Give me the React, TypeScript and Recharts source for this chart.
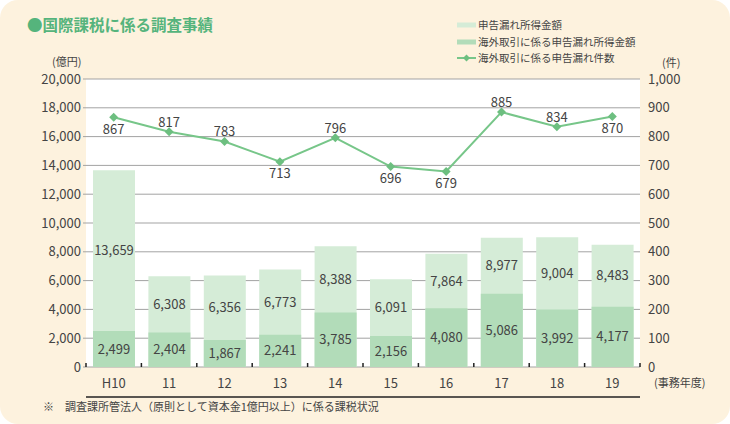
import React from 'react';
import { ComposedChart, Bar, Line, XAxis, YAxis, CartesianGrid, LabelList } from 'recharts';

const categories = ['H10', '11', '12', '13', '14', '15', '16', '17', '18', '19'];
const undeclaredIncome = [13659, 6308, 6356, 6773, 8388, 6091, 7864, 8977, 9004, 8483];
const overseasIncome = [2499, 2404, 1867, 2241, 3785, 2156, 4080, 5086, 3992, 4177];
const overseasCases = [867, 817, 783, 713, 796, 696, 679, 885, 834, 870];
const leftTicks = [0, 2000, 4000, 6000, 8000, 10000, 12000, 14000, 16000, 18000, 20000];
const rightTicks = [0, 100, 200, 300, 400, 500, 600, 700, 800, 900, 1000];

const data = categories.map((name, i) => ({
    name,
    total: undeclaredIncome[i],
    overseas: overseasIncome[i],
    cases: overseasCases[i],
}));

const FONT = '"Noto Sans CJK JP", "Noto Sans", sans-serif';
const LIGHT = '#d5ecd7';
const DARK = '#b2dcb9';
const LINE = '#77c689';
const TEXT = '#444';

const W = 730;
const H = 424;
const M = { top: 79, right: 0, bottom: 27, left: 0 };
const XAXIS_H = 30;
const AXIS_Y = H - M.bottom - XAXIS_H;
const LEFT_W = 86;
const RIGHT_W = 90;
const STEP = (W - LEFT_W - RIGHT_W) / categories.length;

// which line labels sit under the point
const labelBelow = [true, false, false, true, false, true, true, false, false, true];

const fmt = (v: number) => v.toLocaleString('en-US');

const Diamond = (props: any) => {
    const { cx, cy } = props;
    if (cx == null || cy == null) return null;
    const s = 4.5;
    return (
        <polygon
            points={`${cx},${cy - s} ${cx + s},${cy} ${cx},${cy + s} ${cx - s},${cy}`}
            fill="#6dbf80"
        />
    );
};

const LineLabel = (props: any) => {
    const { x, y, value, index } = props;
    const dy = labelBelow[index] ? 16.5 : -5;
    return (
        <text x={x} y={y + dy} textAnchor="middle" fontSize={13} fill={TEXT} fontFamily={FONT}>
            {value}
        </text>
    );
};

const TotalLabel = (props: any) => {
    const { x, y, width, height, value, index } = props;
    const darkTop = y + height * (1 - overseasIncome[index] / value);
    const cy = (y + darkTop) / 2;
    return (
        <text x={x + width / 2} y={cy + 4.5} textAnchor="middle" fontSize={13} fill={TEXT} fontFamily={FONT}>
            {fmt(value)}
        </text>
    );
};

const OverseasLabel = (props: any) => {
    const { x, y, width, height, value } = props;
    return (
        <text x={x + width / 2} y={y + height / 2 + 4.5} textAnchor="middle" fontSize={13} fill={TEXT} fontFamily={FONT}>
            {fmt(value)}
        </text>
    );
};

const XTick = (props: any) => {
    const { x, payload, index } = props;
    const left = x - STEP / 2;
    const right = x + STEP / 2;
    return (
        <g>
            <line x1={left} x2={left} y1={AXIS_Y} y2={AXIS_Y - 4} stroke="#222" strokeWidth={1.5} />
            {index === categories.length - 1 && (
                <line x1={right} x2={right} y1={AXIS_Y} y2={AXIS_Y - 4} stroke="#222" strokeWidth={1.5} />
            )}
            <text x={x} y={AXIS_Y + 21} textAnchor="middle" fontSize={13} fill={TEXT} fontFamily={FONT}>
                {payload.value}
            </text>
        </g>
    );
};

const legendItems = [
    { label: '申告漏れ所得金額', kind: 'light' },
    { label: '海外取引に係る申告漏れ所得金額', kind: 'dark' },
    { label: '海外取引に係る申告漏れ件数', kind: 'line' },
];

const abs = (left: number, top: number, extra: React.CSSProperties = {}): React.CSSProperties => ({
    position: 'absolute',
    left,
    top,
    whiteSpace: 'nowrap',
    fontFamily: FONT,
    color: TEXT,
    ...extra,
});

export default function App() {
    return (
        <div
            style={{
                position: 'absolute',
                left: 0,
                top: 0,
                width: W,
                height: H,
                background: '#fdf2de',
                borderRadius: 18,
                overflow: 'hidden',
            }}
        >
            <div style={abs(27, 13, { fontSize: 15.5, fontWeight: 700, color: '#55b47c', lineHeight: '22px' })}>
                ●国際課税に係る調査事績
            </div>

            {legendItems.map((item, i) => (
                <div key={item.label} style={abs(457, 17 + i * 16.5, { fontSize: 10.5, lineHeight: '16px', display: 'flex', alignItems: 'center' })}>
                    <svg width={19} height={10} style={{ marginRight: 2 }}>
                        {item.kind === 'line' ? (
                            <>
                                <line x1={0} x2={19} y1={5} y2={5} stroke={LINE} strokeWidth={2} />
                                <polygon points="9.5,1.5 13,5 9.5,8.5 6,5" fill="#6dbf80" />
                            </>
                        ) : (
                            <rect x={0} y={2.5} width={19} height={5} fill={item.kind === 'light' ? LIGHT : DARK} />
                        )}
                    </svg>
                    {item.label}
                </div>
            ))}

            <div style={abs(52, 55, { fontSize: 11, lineHeight: '12px' })}>(億円)</div>
            <div style={abs(662, 56, { fontSize: 11, lineHeight: '12px' })}>(件)</div>
            <div style={abs(654, 376, { fontSize: 11, lineHeight: '12px' })}>(事務年度)</div>
            <div style={abs(43, 400, { fontSize: 11, lineHeight: '12px' })}>
                ※　調査課所管法人（原則として資本金1億円以上）に係る課税状況
            </div>

            <ComposedChart width={W} height={H} data={data} margin={M} style={{ position: 'absolute', left: 0, top: 0 }}>
                <CartesianGrid
                    xAxisId="main"
                    yAxisId="left"
                    vertical={false}
                    stroke="#a3a3a3"
                    fill="#ffffff"
                    fillOpacity={1}
                />
                <XAxis
                    xAxisId="main"
                    dataKey="name"
                    height={XAXIS_H}
                    axisLine={{ stroke: '#222', strokeWidth: 1.5 }}
                    tickLine={false}
                    tickSize={0}
                    tickMargin={0}
                    tick={<XTick />}
                    interval={0}
                />
                <XAxis xAxisId="back" dataKey="name" hide />
                <YAxis
                    yAxisId="left"
                    domain={[0, 20000]}
                    ticks={leftTicks}
                    width={LEFT_W}
                    axisLine={false}
                    tickSize={3}
                    tickMargin={2}
                    tickLine={{ stroke: '#a3a3a3' }}
                    tickFormatter={fmt}
                    tick={{ fontSize: 13, fill: TEXT, fontFamily: FONT }}
                    interval={0}
                />
                <YAxis
                    yAxisId="right"
                    orientation="right"
                    domain={[0, 1000]}
                    ticks={rightTicks}
                    width={RIGHT_W}
                    axisLine={false}
                    tickLine={false}
                    tickSize={0}
                    tickMargin={8}
                    tickFormatter={fmt}
                    tick={{ fontSize: 13, fill: TEXT, fontFamily: FONT, textAnchor: 'start' }}
                    interval={0}
                />
                <Bar xAxisId="back" yAxisId="left" dataKey="total" fill={LIGHT} barSize={42} isAnimationActive={false}>
                    <LabelList dataKey="total" content={<TotalLabel />} />
                </Bar>
                <Bar xAxisId="main" yAxisId="left" dataKey="overseas" fill={DARK} barSize={42} isAnimationActive={false}>
                    <LabelList dataKey="overseas" content={<OverseasLabel />} />
                </Bar>
                <Line
                    xAxisId="main"
                    yAxisId="right"
                    dataKey="cases"
                    stroke={LINE}
                    strokeWidth={2}
                    dot={<Diamond />}
                    activeDot={false}
                    isAnimationActive={false}
                >
                    <LabelList dataKey="cases" content={<LineLabel />} />
                </Line>
            </ComposedChart>
        </div>
    );
}
